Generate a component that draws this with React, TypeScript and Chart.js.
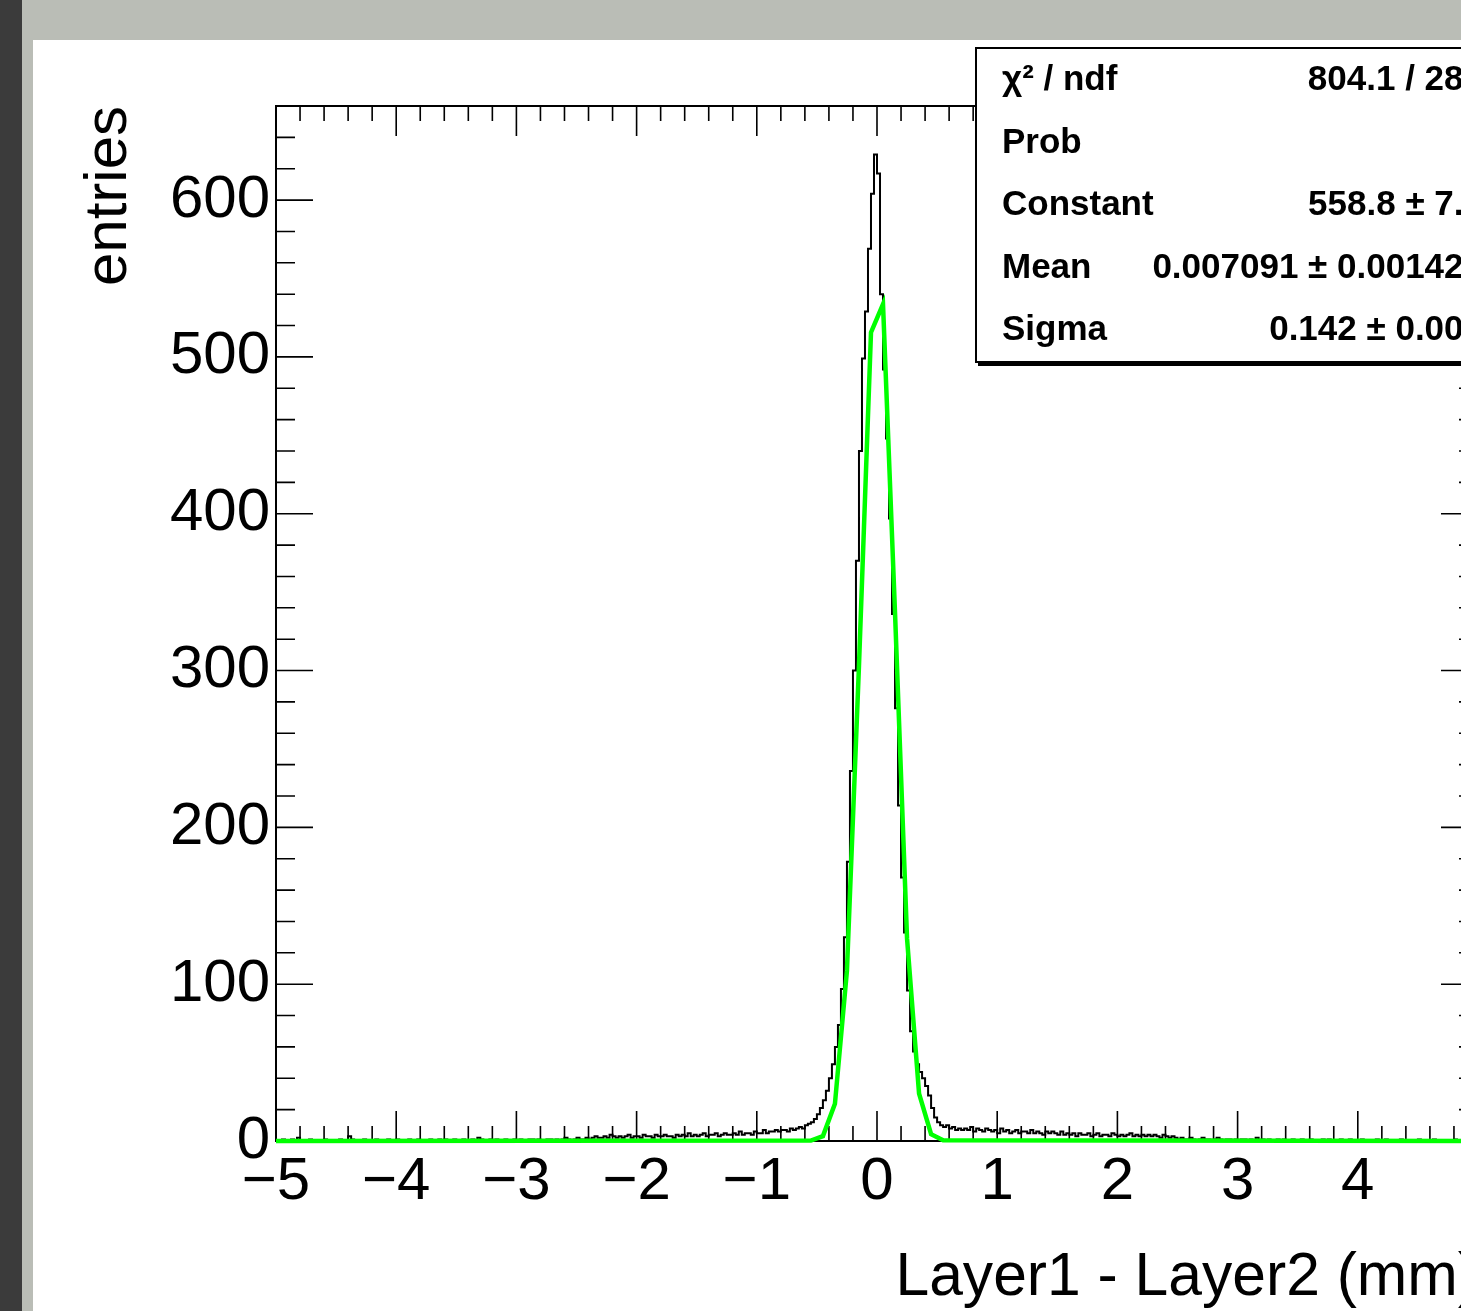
import React, { useEffect, useRef } from "react";
import { Chart, registerables } from "chart.js";

Chart.register(...registerables);

// ---- histogram definition: 400 bins of 0.025 mm from -5 to 5 ----
const X_MIN = -5;
const X_MAX = 5;
const BIN_WIDTH = 0.025;

// bins -5.00 .. -2.50
const leftFarTail = [
  0, 0, 0, 1, 0, 0, 1, 0, 2, 0, 0, 0, 1, 0, 0, 0, 0, 1, 0, 0,
  0, 0, 1, 0, 0, 3, 1, 0, 0, 0, 1, 0, 0, 0, 1, 0, 0, 0, 1, 0,
  0, 1, 0, 0, 0, 1, 0, 0, 1, 0, 0, 0, 1, 0, 0, 1, 0, 1, 0, 0,
  1, 0, 0, 1, 0, 0, 1, 0, 2, 1, 0, 0, 1, 0, 1, 0, 0, 1, 0, 0,
  1, 0, 1, 0, 0, 1, 1, 0, 1, 0, 0, 1, 1, 0, 1, 0, 1, 2, 1, 0,
];
// bins -2.50 .. -1.50
const leftMidTail = [
  1, 2, 1, 1, 2, 1, 2, 3, 2, 2, 3, 2, 4, 3, 2, 3, 2, 3, 4, 2,
  3, 3, 2, 4, 3, 3, 2, 4, 3, 3, 4, 3, 3, 2, 4, 3, 4, 3, 5, 3,
];
// bins -1.50 .. -0.75
const leftNearTail = [
  4, 3, 4, 5, 3, 4, 4, 5, 3, 4, 5, 4, 4, 5, 4, 6, 4, 5, 5, 4,
  6, 5, 5, 7, 5, 6, 6, 7, 6, 7,
];
// bins -0.75 .. 0.00
const coreLeft = [
  7, 6, 8, 7, 8, 9, 8, 10, 11, 12, 14, 17, 21, 26, 32, 40, 49, 60, 74, 97,
  130, 178, 236, 300, 370, 440, 499, 529, 569, 604,
];
// bins 0.00 .. 0.75
const coreRight = [
  629, 617, 540, 492, 448, 397, 336, 276, 214, 168, 133, 96, 70, 57, 49, 44,
  40, 35, 29, 21, 15, 12, 10, 9, 10, 8, 9, 7, 8, 7,
];
// bins 0.75 .. 1.50
const rightNearTail = [
  8, 7, 9, 6, 8, 7, 6, 8, 7, 6, 7, 5, 8, 6, 7, 5, 6, 7, 5, 6,
  6, 5, 7, 5, 6, 5, 4, 6, 5, 6,
];
// bins 1.50 .. 2.50
const rightMidTail = [
  5, 4, 6, 4, 5, 4, 5, 3, 5, 4, 4, 5, 3, 4, 5, 3, 4, 4, 3, 5,
  4, 3, 4, 3, 4, 5, 3, 4, 3, 4, 3, 4, 3, 4, 3, 2, 4, 3, 2, 3,
];
// bins 2.50 .. 5.00
const rightFarTail = [
  2, 1, 2, 1, 1, 2, 1, 0, 1, 2, 1, 1, 0, 1, 2, 1, 0, 1, 1, 0,
  1, 0, 1, 1, 0, 1, 0, 2, 0, 1, 0, 1, 0, 0, 1, 0, 1, 0, 0, 1,
  0, 0, 1, 0, 0, 1, 0, 0, 0, 1, 0, 1, 0, 0, 0, 1, 0, 0, 1, 0,
  0, 0, 1, 0, 0, 0, 0, 1, 0, 0, 1, 0, 0, 0, 0, 1, 0, 0, 0, 0,
  0, 1, 0, 0, 0, 0, 1, 0, 0, 0, 0, 0, 0, 1, 0, 0, 0, 0, 0, 1,
];

const fitX = [-5, -0.55, -0.45, -0.35, -0.25, -0.15, -0.05, 0.05, 0.15, 0.25, 0.35, 0.45, 0.55, 5];
const fitY = [0, 0.3, 3.1, 23.7, 108.6, 303, 515.6, 533.7, 336.6, 129, 30.2, 4.3, 0.4, 0];

// ---- axes ----
const xTickValues = [-5, -4, -3, -2, -1, 0, 1, 2, 3, 4, 5];
const yTickValues = [0, 100, 200, 300, 400, 500, 600];
const Y_MAX = 660;
const xTitle = "Layer1 - Layer2 (mm)";
const yTitle = "entries";

// ---- stats box ----
const statsLabels = ["χ² / ndf", "Prob", "Constant", "Mean", "Sigma"];
const statsValues = ["804.1 / 283", "0", "558.8 ± 7.1", "0.007091 ± 0.001422", "0.142 ± 0.001"];

const FONT = '"Liberation Sans", Arial, Helvetica, sans-serif';

const fmtTick = (v: number) => (v < 0 ? "\u2212" + Math.abs(v) : String(v));

const framePlugin = {
  id: "rootFrame",
  beforeDatasetsDraw(chart: any) {
    const { ctx, chartArea } = chart;
    const { left, right, top, bottom } = chartArea;
    const xs = chart.scales.x;
    const ys = chart.scales.y;
    ctx.save();
    ctx.strokeStyle = "#000";
    ctx.lineWidth = 2;
    ctx.strokeRect(left, top, right - left, bottom - top);
    ctx.lineWidth = 1.6;
    ctx.beginPath();
    for (let i = 0; i <= 50; i++) {
      const v = X_MIN + i * 0.2;
      const px = xs.getPixelForValue(v);
      const major = i % 5 === 0;
      const len = major ? 30 : 15;
      ctx.moveTo(px, bottom);
      ctx.lineTo(px, bottom - len);
      ctx.moveTo(px, top);
      ctx.lineTo(px, top + len);
    }
    for (let i = 0; i * 20 <= Y_MAX; i++) {
      const v = i * 20;
      const py = ys.getPixelForValue(v);
      const major = i % 5 === 0;
      const len = major ? 37 : 19;
      ctx.moveTo(left, py);
      ctx.lineTo(left + len, py);
      ctx.moveTo(right, py);
      ctx.lineTo(right - len, py);
    }
    ctx.stroke();
    ctx.restore();
  },
};

export default function App() {
  const canvasRef = useRef<HTMLCanvasElement | null>(null);

  useEffect(() => {
    const counts = [
      ...leftFarTail,
      ...leftMidTail,
      ...leftNearTail,
      ...coreLeft,
      ...coreRight,
      ...rightNearTail,
      ...rightMidTail,
      ...rightFarTail,
    ];
    const histPoints = counts.map((c, i) => ({ x: X_MIN + i * BIN_WIDTH, y: c }));
    histPoints.push({ x: X_MAX, y: counts[counts.length - 1] });
    const fitPoints = fitX.map((x, i) => ({ x, y: fitY[i] }));

    const chart = new Chart(canvasRef.current as HTMLCanvasElement, {
      type: "line",
      data: {
        datasets: [
          {
            label: "fit",
            data: fitPoints,
            borderColor: "#00ff00",
            borderWidth: 4.5,
            pointRadius: 0,
            tension: 0,
            fill: false,
            order: 0,
            clip: 8,
          } as any,
          {
            label: "hist",
            data: histPoints,
            borderColor: "#000000",
            borderWidth: 2,
            pointRadius: 0,
            stepped: "after",
            fill: false,
            order: 1,
            clip: 8,
          } as any,
        ],
      },
      options: {
        animation: false,
        responsive: false,
        events: [],
        layout: { padding: { left: 0, top: 66, right: 55, bottom: 0 } },
        plugins: {
          legend: { display: false },
          tooltip: { enabled: false },
          title: { display: false },
        },
        scales: {
          x: {
            type: "linear",
            min: X_MIN,
            max: X_MAX,
            grid: { display: false, drawTicks: false },
            border: { display: false },
            ticks: {
              autoSkip: false,
              maxRotation: 0,
              padding: 5,
              color: "#000",
              font: { family: FONT, size: 60 },
              callback: (v: any) => fmtTick(Number(v)),
            },
            afterBuildTicks: (s: any) => {
              s.ticks = xTickValues.map((v) => ({ value: v }));
            },
            afterFit: (s: any) => {
              s.height = 189;
            },
            title: {
              display: true,
              text: xTitle,
              align: "end",
              color: "#000",
              font: { family: FONT, size: 60.6 },
              padding: { top: 0, bottom: 15 },
            },
          },
          y: {
            type: "linear",
            min: 0,
            max: Y_MAX,
            grid: { display: false, drawTicks: false },
            border: { display: false },
            ticks: {
              autoSkip: false,
              padding: 6,
              color: "#000",
              font: { family: FONT, size: 60 },
              callback: (v: any) => String(v),
            },
            afterBuildTicks: (s: any) => {
              s.ticks = yTickValues.map((v) => ({ value: v }));
            },
            afterFit: (s: any) => {
              s.width = 243;
            },
            title: {
              display: true,
              text: yTitle,
              align: "end",
              color: "#000",
              font: { family: FONT, size: 60 },
              padding: { top: 40, bottom: 0 },
            },
          },
        },
      } as any,
      plugins: [framePlugin],
    });
    return () => chart.destroy();
  }, []);

  return (
    <div
      style={{
        position: "fixed",
        left: 0,
        top: 0,
        width: 1461,
        height: 1311,
        overflow: "hidden",
        background: "#babdb6",
      }}
    >
      <div style={{ position: "absolute", left: 0, top: 0, width: 22, height: 1311, background: "#3b3b3b" }} />
      <canvas
        ref={canvasRef}
        width={1500}
        height={1290}
        style={{ position: "absolute", left: 33, top: 40, width: 1500, height: 1290, background: "#fff" }}
      />
      <div
        style={{
          position: "absolute",
          left: 975,
          top: 47,
          width: 540,
          height: 316,
          boxSizing: "border-box",
          border: "2px solid #000",
          boxShadow: "3px 3px 0 #000",
          background: "#fff",
          fontFamily: FONT,
          fontWeight: "bold",
          fontSize: 35,
          color: "#000",
        }}
      >
        {statsLabels.map((label, i) => (
          <div
            key={label}
            style={{
              position: "absolute",
              left: 0,
              right: 0,
              top: -2 + i * 62.6,
              height: 62.6,
              lineHeight: "62.6px",
              whiteSpace: "nowrap",
            }}
          >
            <span style={{ position: "absolute", left: 25 }}>{label}</span>
            <span style={{ position: "absolute", right: 30 }}>{statsValues[i]}</span>
          </div>
        ))}
      </div>
    </div>
  );
}
